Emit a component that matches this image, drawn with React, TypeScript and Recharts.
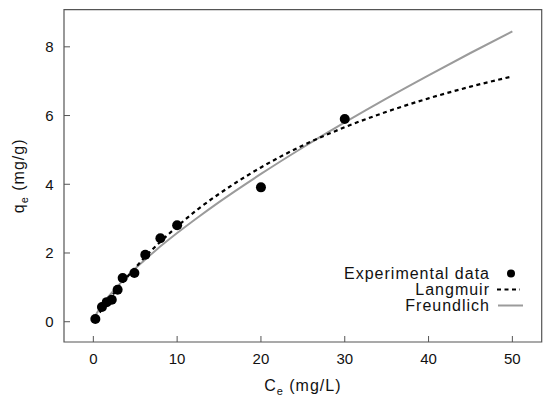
import { ComposedChart, Line, Scatter, XAxis, YAxis, ReferenceArea } from "recharts";

// measured points
const EXP_C = [0.24, 1.03, 1.6, 2.2, 2.9, 3.5, 4.9, 6.2, 8.0, 10.0, 20.0, 30.0];
const EXP_Q = [0.08, 0.43, 0.57, 0.64, 0.93, 1.27, 1.42, 1.95, 2.43, 2.81, 3.91, 5.9];

// fitted isotherms
const FIT_C = [0.24, 0.5, 1, 1.5, 2, 3, 4, 5, 6, 7.5, 10, 12.5, 15, 20, 25, 30, 35, 40, 45, 50];
const LANGMUIR_Q = [
  0.09, 0.18, 0.35, 0.52, 0.68, 1.0, 1.29, 1.57, 1.84, 2.21, 2.77, 3.28, 3.72, 4.49, 5.13,
  5.66, 6.11, 6.5, 6.84, 7.14,
];
const FREUNDLICH_Q = [
  0.17, 0.28, 0.47, 0.64, 0.79, 1.06, 1.31, 1.55, 1.77, 2.09, 2.58, 3.04, 3.48, 4.3, 5.07,
  5.8, 6.5, 7.17, 7.82, 8.45,
];

const X_TICKS = [0, 10, 20, 30, 40, 50];
const Y_TICKS = [0, 2, 4, 6, 8];
const X_DOMAIN = [-3.5, 53.5];
const Y_DOMAIN = [-0.59, 9.08];
const LEGEND = ["Experimental data", "Langmuir", "Freundlich"];

const experimental = EXP_C.map((c, i) => ({ c, q: EXP_Q[i] }));
const langmuir = FIT_C.map((c, i) => ({ c, q: LANGMUIR_Q[i] }));
const freundlich = FIT_C.map((c, i) => ({ c, q: FREUNDLICH_Q[i] }));

const FONT = "'Liberation Sans', Arial, Helvetica, sans-serif";
const AXIS = "#555";
const GREY = "#9b9b9b";

const XTick = ({ x, y, payload }: any) => (
  <g>
    <line x1={x} y1={y} x2={x} y2={y - 6} stroke={AXIS} />
    <text x={x} y={y + 21.5} textAnchor="middle" fontSize={15} fontFamily={FONT} fill="#111">
      {payload.value}
    </text>
  </g>
);

const YTick = ({ x, y, payload }: any) => (
  <g>
    <line x1={x} y1={y} x2={x + 6} y2={y} stroke={AXIS} />
    <text x={x - 10.5} y={y + 5.4} textAnchor="end" fontSize={15} fontFamily={FONT} fill="#111">
      {payload.value}
    </text>
  </g>
);

const XTitle = ({ viewBox }: any) => {
  const cx = viewBox.x + viewBox.width / 2;
  return (
    <text x={cx} y={viewBox.y + 48.5} textAnchor="middle" fontSize={16} fontFamily={FONT} fill="#111" letterSpacing={1}>
      C
      <tspan fontSize={11} dy={4}>e</tspan>
      <tspan dy={-4}> (mg/L)</tspan>
    </text>
  );
};

const YTitle = ({ viewBox }: any) => {
  const cy = viewBox.y + viewBox.height / 2;
  const tx = 24;
  return (
    <text
      x={tx}
      y={cy}
      transform={`rotate(-90, ${tx}, ${cy})`}
      textAnchor="middle"
      fontSize={16}
      fontFamily={FONT}
      fill="#111"
      letterSpacing={1}
    >
      q
      <tspan fontSize={11} dy={4}>e</tspan>
      <tspan dy={-4}> (mg/g)</tspan>
    </text>
  );
};

const Dot = (p: any) => <circle cx={p.cx} cy={p.cy} r={5} fill="#000" />;

function LegendBox() {
  const rows = [273.5, 289.5, 305.5];
  return (
    <svg width={550} height={405} style={{ position: "absolute", left: 0, top: 0, pointerEvents: "none" }}>
      {LEGEND.map((name, i) => (
        <text
          key={name}
          x={490}
          y={rows[i] + 5.5}
          textAnchor="end"
          fontSize={16}
          fontFamily={FONT}
          fill="#111"
          letterSpacing={1}
        >
          {name}
        </text>
      ))}
      <circle cx={511} cy={rows[0]} r={4} fill="#000" />
      <line x1={497} x2={520} y1={rows[1]} y2={rows[1]} stroke="#000" strokeWidth={2.2} strokeDasharray="4 3.5" />
      <line x1={498} x2={523} y1={rows[2]} y2={rows[2]} stroke={GREY} strokeWidth={2} />
    </svg>
  );
}

export default function App() {
  return (
    <div style={{ position: "absolute", left: 0, top: 0, width: 550, height: 405, background: "#fff", fontFamily: FONT }}>
      <ComposedChart width={550} height={405} margin={{ top: 9.7, right: 8.3, bottom: 0, left: 0 }}>
        <XAxis
          type="number"
          dataKey="c"
          domain={X_DOMAIN}
          ticks={X_TICKS}
          interval={0}
          allowDataOverflow
          height={63}
          tickSize={0}
          tickMargin={0}
          tickLine={false}
          axisLine={false}
          tick={<XTick />}
          label={{ content: XTitle }}
        />
        <YAxis
          type="number"
          dataKey="q"
          domain={Y_DOMAIN}
          ticks={Y_TICKS}
          interval={0}
          allowDataOverflow
          width={64}
          tickSize={0}
          tickMargin={0}
          tickLine={false}
          axisLine={false}
          tick={<YTick />}
          label={{ content: YTitle }}
        />
        <ReferenceArea
          x1={X_DOMAIN[0]}
          x2={X_DOMAIN[1]}
          y1={Y_DOMAIN[0]}
          y2={Y_DOMAIN[1]}
          fill="none"
          stroke={AXIS}
          strokeWidth={1.2}
        />
        <Line
          data={freundlich}
          dataKey="q"
          type="monotone"
          stroke={GREY}
          strokeWidth={2}
          dot={false}
          isAnimationActive={false}
        />
        <Line
          data={langmuir}
          dataKey="q"
          type="monotone"
          stroke="#000"
          strokeWidth={2.2}
          strokeDasharray="4 3.5"
          dot={false}
          isAnimationActive={false}
        />
        <Scatter data={experimental} dataKey="q" shape={Dot} isAnimationActive={false} />
      </ComposedChart>
      <LegendBox />
    </div>
  );
}
